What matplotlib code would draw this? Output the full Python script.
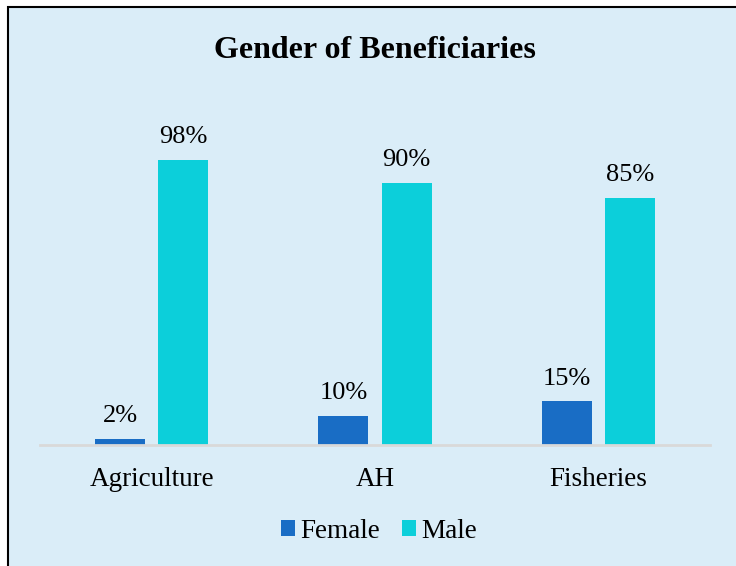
import matplotlib
matplotlib.use("Agg")
import matplotlib.pyplot as plt
from matplotlib.patches import Rectangle
import numpy as np

categories = ["Agriculture", "AH", "Fisheries"]
female = [2, 10, 15]
male = [98, 90, 85]
series_names = ["Female", "Male"]

W, H = 736, 566
fig = plt.figure(figsize=(W / 100, H / 100), dpi=100)
fig.patch.set_facecolor("white")
bg = "#DAEDF8"
fig.patches.append(Rectangle((8 / W, -0.01), 1.02 - 8 / W, 1 - 7 / H + 0.01,
                             transform=fig.transFigure, facecolor=bg,
                             edgecolor="black", linewidth=1.5, zorder=-10))

plt.rcParams["font.family"] = ["Liberation Serif", "DejaVu Serif"]

# axes: x from 40 to 710 px, baseline at y=445, scale 2.908 px per %
ymax = 120
top_px = 445 - ymax * 2.908
ax = fig.add_axes([40 / W, 1 - 445 / H, 670 / W, (445 - top_px) / H])
ax.set_facecolor("none")
ax.set_zorder(1)
x = np.arange(len(categories))
bw = 50 / 223.3
gap = 13 / 223.3
c_f = "#196DC5"
c_m = "#0CCFDA"
bf = ax.bar(x - (bw + gap) / 2, female, bw, color=c_f, label=series_names[0])
bm = ax.bar(x + (bw + gap) / 2, male, bw, color=c_m, label=series_names[1])
for bars, vals in ((bf, female), (bm, male)):
    for b, v in zip(bars, vals):
        ax.annotate(f"{v}%", (b.get_x() + b.get_width() / 2, v),
                    xytext=(0, 8.5), textcoords="offset points",
                    ha="center", va="bottom", fontsize=19)
ax.set_xlim(-0.5, 2.5)
ax.set_ylim(0, ymax)
ax.set_yticks([])
for s in ["top", "right", "left"]:
    ax.spines[s].set_visible(False)
ax.spines["bottom"].set_color("#D9D9D9")
ax.spines["bottom"].set_linewidth(2)
ax.set_xticks(x)
ax.set_xticklabels(categories, fontsize=19.5)
ax.tick_params(axis="x", length=0, pad=16)

fig.text(375 / W, 1 - 50 / H, "Gender of Beneficiaries", ha="center", va="center",
         fontsize=23, fontweight="bold")

fig.legend(handles=[bf, bm], labels=series_names, loc="center",
           bbox_to_anchor=(379 / W, 1 - 531 / H), ncol=2, frameon=False,
           fontsize=19.5, handlelength=0.52, handleheight=0.52, handletextpad=0.22,
           columnspacing=0.78)

fig.savefig("out.png", dpi=100, facecolor=fig.get_facecolor())
